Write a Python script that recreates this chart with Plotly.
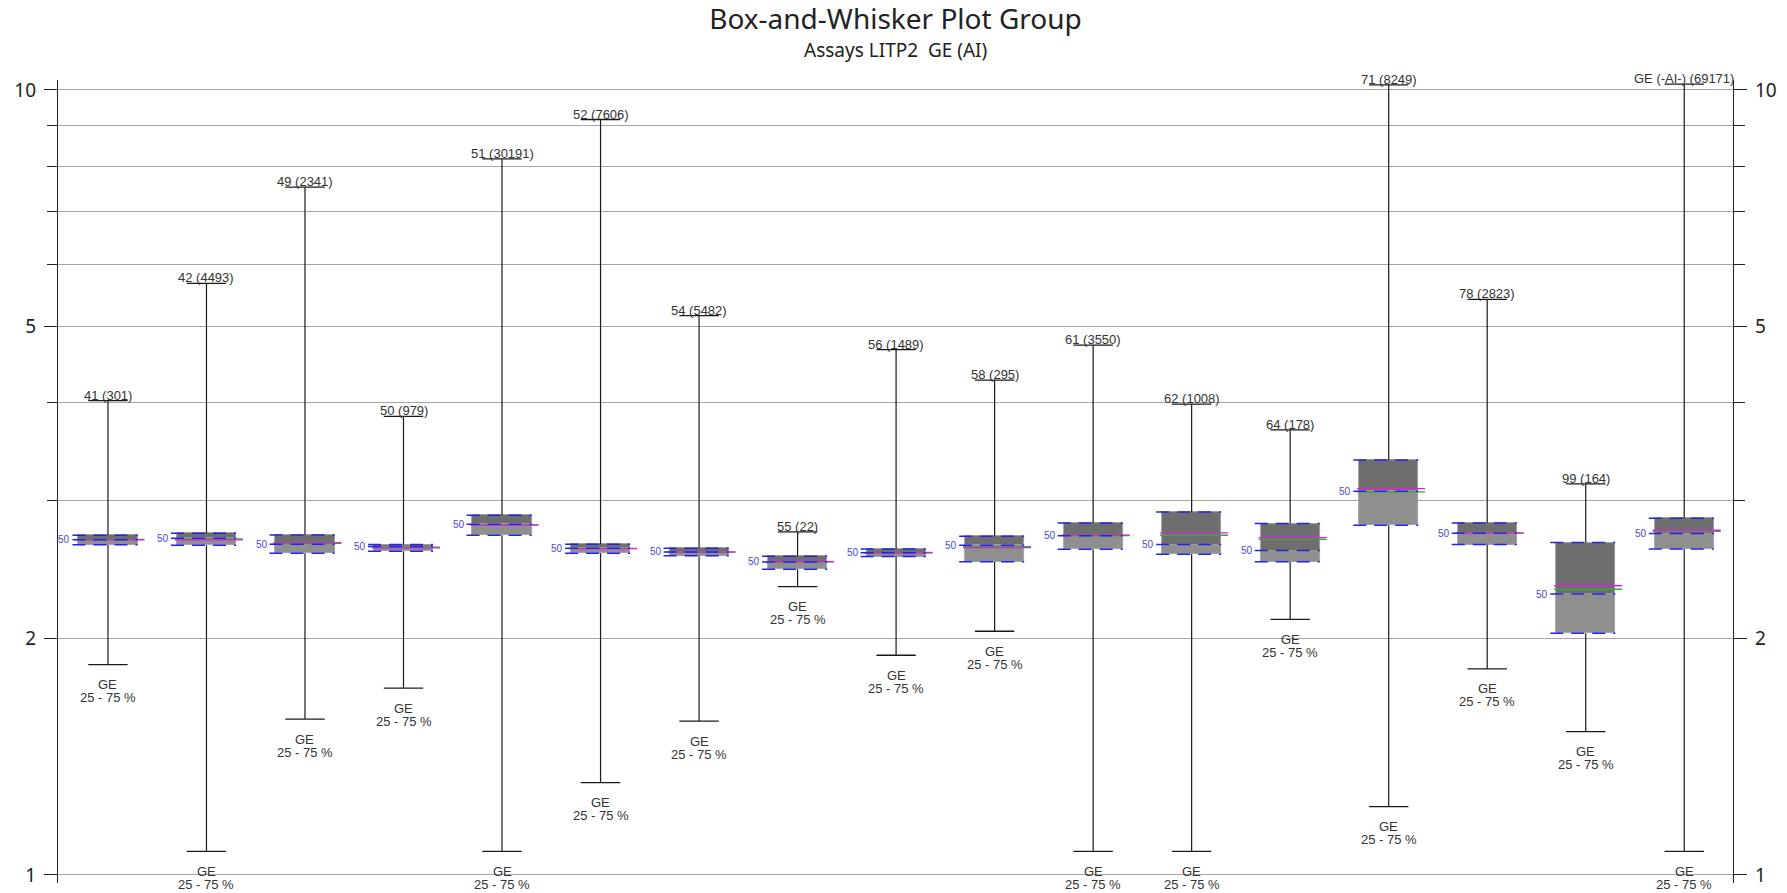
import numpy as np
import plotly.graph_objects as go

# ---------------- data ----------------
labels = ["41 (301)", "42 (4493)", "49 (2341)", "50 (979)", "51 (30191)", "52 (7606)",
          "54 (5482)", "55 (22)", "56 (1489)", "58 (295)", "61 (3550)", "62 (1008)",
          "64 (178)", "71 (8249)", "78 (2823)", "99 (164)", "GE (-AI-) (69171)"]
whisker_high = [4.02, 5.67, 7.52, 3.84, 8.17, 9.17, 5.16, 2.735, 4.67, 4.27, 4.73, 3.98,
                3.69, 10.15, 5.41, 3.15, 10.17]
q3 = [2.708, 2.725, 2.711, 2.636, 2.872, 2.638, 2.607, 2.547, 2.602, 2.701, 2.808, 2.90,
      2.803, 3.379, 2.808, 2.651, 2.847]
median = [2.674, 2.685, 2.638, 2.62, 2.797, 2.607, 2.579, 2.505, 2.574, 2.63, 2.705, 2.636,
          2.59, 3.083, 2.725, 2.28, 2.722]
q1 = [2.635, 2.630, 2.570, 2.585, 2.708, 2.570, 2.55, 2.452, 2.545, 2.507, 2.60, 2.562,
      2.507, 2.79, 2.636, 2.032, 2.602]
whisker_low = [1.853, 1.072, 1.58, 1.73, 1.072, 1.311, 1.57, 2.33, 1.905, 2.044, 1.072, 1.072,
               2.117, 1.222, 1.83, 1.523, 1.072]
mean_vals = [2.672, 2.673, 2.651, 2.61, 2.79, 2.604, 2.578, 2.507, 2.573, 2.612, 2.71, 2.727,
             2.69, 3.105, 2.727, 2.336, 2.749]
gmean_vals = [2.676, 2.68, 2.645, 2.615, 2.795, 2.606, 2.58, 2.506, 2.575, 2.62, 2.707, 2.709,
              2.677, 3.076, 2.726, 2.312, 2.74]
bottom_line1 = "GE"
bottom_line2 = "25 - 75 %"
y_tick_major = [1, 2, 5, 10]
y_tick_minor = [3, 4, 6, 7, 8, 9]

title_text = "Box-and-Whisker Plot Group"
subtitle_text = "Assays LITP2  GE (AI)"

# ---------------- styling ----------------
DARK = "#6e6e6e"
LIGHT = "#8f8f8f"
BLUE = "#2323e6"
MAGENTA = "#e01fe0"
GREEN = "#2fae2f"
BOX_HALF = 0.30
CAP_HALF = 0.20
LABEL_FONT = dict(family="Liberation Sans, Arial", size=13, color="#333")

n = len(labels)
xs = np.arange(n)
q1a, q3a, meda = np.array(q1), np.array(q3), np.array(median)

fig = go.Figure()

# box halves as bars (upper dark, lower light)
fig.add_trace(go.Bar(x=xs, y=q3a - meda, base=meda, width=2 * BOX_HALF,
                     marker=dict(color=DARK, line=dict(width=0.8, color="#9a9a9a")),
                     hoverinfo="skip", showlegend=False))
fig.add_trace(go.Bar(x=xs, y=meda - q1a, base=q1a, width=2 * BOX_HALF,
                     marker=dict(color=LIGHT, line=dict(width=0.8, color="#9a9a9a")),
                     hoverinfo="skip", showlegend=False))


def segs(x0s, x1s, ys0, ys1):
    X, Y = [], []
    for a, b, c, d in zip(x0s, x1s, ys0, ys1):
        X += [a, b, None]
        Y += [c, d, None]
    return X, Y


# whiskers
X, Y = segs(xs, xs, whisker_high, q3)
X2, Y2 = segs(xs, xs, q1, whisker_low)
fig.add_trace(go.Scatter(x=X + X2, y=Y + Y2, mode="lines", line=dict(color="#1a1a1a", width=1.2),
                         hoverinfo="skip", showlegend=False, cliponaxis=False))
# caps
X, Y = segs(xs - CAP_HALF, xs + CAP_HALF, whisker_high, whisker_high)
X2, Y2 = segs(xs - CAP_HALF, xs + CAP_HALF, whisker_low, whisker_low)
fig.add_trace(go.Scatter(x=X + X2, y=Y + Y2, mode="lines", line=dict(color="#1a1a1a", width=1.3),
                         hoverinfo="skip", showlegend=False, cliponaxis=False))

# mean (magenta) and green lines
X, Y = segs(xs - BOX_HALF - 0.02, xs + BOX_HALF + 0.07, gmean_vals, gmean_vals)
fig.add_trace(go.Scatter(x=X, y=Y, mode="lines", line=dict(color=GREEN, width=1.3),
                         hoverinfo="skip", showlegend=False))
X, Y = segs(xs - BOX_HALF - 0.02, xs + BOX_HALF + 0.07, mean_vals, mean_vals)
fig.add_trace(go.Scatter(x=X, y=Y, mode="lines", line=dict(color=MAGENTA, width=1.3),
                         hoverinfo="skip", showlegend=False))

# blue dashed quartile / median lines
X, Y = segs(xs - BOX_HALF - 0.06, xs + BOX_HALF, q1, q1)
X2, Y2 = segs(xs - BOX_HALF - 0.06, xs + BOX_HALF, q3, q3)
X3, Y3 = segs(xs - BOX_HALF - 0.06, xs + BOX_HALF, median, median)
fig.add_trace(go.Scatter(x=X + X2 + X3, y=Y + Y2 + Y3, mode="lines",
                         line=dict(color=BLUE, width=1.5, dash="13px,8px"),
                         hoverinfo="skip", showlegend=False))

# invisible trace for right axis
fig.add_trace(go.Scatter(x=[0], y=[2], yaxis="y2", mode="markers", marker=dict(opacity=0),
                         hoverinfo="skip", showlegend=False))

annotations = []
for i in range(n):
    annotations.append(dict(x=i, y=np.log10(whisker_high[i]), xref="x", yref="y",
                            text=labels[i], showarrow=False, yanchor="bottom", yshift=-4,
                            font=LABEL_FONT))
    annotations.append(dict(x=i, y=np.log10(whisker_low[i]), xref="x", yref="y",
                            text=bottom_line1, showarrow=False, yanchor="middle", yshift=-20,
                            font=LABEL_FONT))
    annotations.append(dict(x=i, y=np.log10(whisker_low[i]), xref="x", yref="y",
                            text=bottom_line2, showarrow=False, yanchor="middle", yshift=-33,
                            font=LABEL_FONT))
    annotations.append(dict(x=i - BOX_HALF - 0.06, y=np.log10(median[i]), xref="x", yref="y",
                            text="50", showarrow=False, xanchor="right", yanchor="middle",
                            font=dict(family="Liberation Sans, Arial", size=10, color="#4848d8")))

annotations.append(dict(x=0.5, y=1.037, xref="paper", yref="paper", text=subtitle_text,
                        showarrow=False, yanchor="middle",
                        font=dict(family="Noto Sans", size=19, color="#222")))

yr = [-0.0102, 1.0127]
axis_common = dict(type="log", range=yr, tickvals=y_tick_major,
                   ticktext=[str(v) for v in y_tick_major],
                   ticks="outside", ticklen=13, tickwidth=1, tickcolor="#222",
                   showline=True, linecolor="#222", linewidth=1.2,
                   tickfont=dict(family="Noto Sans", size=19, color="#222"),
                   ticklabelstandoff=4, automargin=False,
                   zeroline=False, fixedrange=True)

fig.update_layout(
    width=1787, height=893,
    margin=dict(l=58, r=54, t=80, b=10),
    paper_bgcolor="white", plot_bgcolor="white",
    barmode="overlay", bargap=0,
    title=dict(text=title_text, x=0.5, xref="paper", xanchor="center", y=1 - 19.5 / 893,
               yanchor="middle", yref="container",
               font=dict(family="Noto Sans", size=28, color="#222")),
    xaxis=dict(range=[-0.507, 16.495], showticklabels=False, showgrid=False, zeroline=False,
               showline=False, ticks="", automargin=False),
    yaxis=dict(**axis_common, side="left", showgrid=True, gridcolor="#a6a6a6", gridwidth=1,
               minor=dict(tickvals=y_tick_minor, ticks="outside", ticklen=10, tickcolor="#222",
                          showgrid=True, gridcolor="#a6a6a6", gridwidth=1)),
    yaxis2=dict(**axis_common, side="right", overlaying="y", showgrid=False,
                minor=dict(tickvals=y_tick_minor, ticks="outside", ticklen=11, tickcolor="#222",
                           showgrid=False)),
    annotations=annotations,
    showlegend=False,
)

fig.write_html("out.html")
